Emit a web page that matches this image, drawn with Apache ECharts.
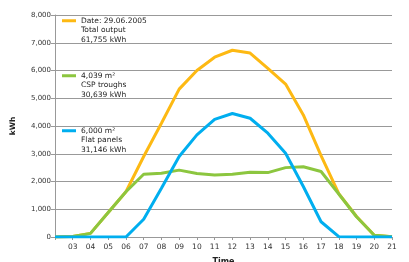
<!DOCTYPE html>
<html>
<head>
<meta charset="utf-8">
<script src="https://cdn.jsdelivr.net/npm/echarts@6/dist/echarts.min.js"></script>
<style>
html,body{margin:0;padding:0;background:#fff;}
#container{width:409px;height:262px;}
</style>
</head>
<body>
<div id="container"></div>
<script>
// hours of the day (02 is the axis start, not labelled)
var hours = ['02','03','04','05','06','07','08','09','10','11','12','13','14','15','16','17','18','19','20','21'];
var totalOutput = [0,20,130,880,1630,2900,4100,5330,6000,6480,6730,6630,6080,5510,4400,2930,1560,740,60,10];
var cspTroughs  = [0,20,130,880,1630,2260,2300,2410,2290,2230,2260,2330,2320,2500,2530,2360,1550,730,60,10];
var flatPanels  = [0,0,0,0,0,640,1760,2900,3680,4240,4450,4280,3740,3020,1820,550,10,0,0,0];

// two empty lines in front so the legend icon sits next to the first text line
var names = [
    '\n\nDate: 29.06.2005\nTotal output\n61,755 kWh',
    '\n\n4,039 m²\nCSP troughs\n30,639 kWh',
    '\n\n6,000 m²\nFlat panels\n31,146 kWh'
];
var colors = ['#fdb913','#8cc63f','#00aeef'];

var fmt = function (v) {
    return String(v).replace(/\B(?=(\d{3})+(?!\d))/g, ',');
};

var legendTops = [-3, 52, 107];
var legends = names.map(function (n, i) {
    return {
        data: [n],
        left: 62,
        top: legendTops[i],
        padding: 0,
        icon: 'rect',
        itemWidth: 14,
        itemHeight: 3,
        selectedMode: false,
        textStyle: {
            fontFamily: 'DejaVu Sans',
            fontSize: 7.5,
            lineHeight: 9.5,
            color: '#222'
        }
    };
});

var dom = document.getElementById('container');
var myChart = echarts.init(dom);
var option = {
    animation: false,
    color: colors,
    legend: legends,
    grid: { left: 55, right: 17, top: 15, bottom: 25, outerBoundsMode: 'none', containLabel: false },
    xAxis: {
        type: 'category',
        data: hours,
        boundaryGap: false,
        name: 'Time',
        nameLocation: 'middle',
        nameGap: 21,
        nameTextStyle: { fontFamily: 'DejaVu Sans', fontSize: 8, fontWeight: 'bold', color: '#222' },
        axisLine: { lineStyle: { color: '#999', width: 1 } },
        axisTick: { show: true, length: 3, lineStyle: { color: '#999' } },
        axisLabel: {
            fontFamily: 'DejaVu Sans', fontSize: 7.5, color: '#333', margin: 6,
            interval: 0,
            formatter: function (v, i) { return i === 0 ? '' : v; }
        },
        splitLine: { show: false }
    },
    yAxis: {
        type: 'value',
        min: 0,
        max: 8000,
        interval: 1000,
        name: 'kWh',
        nameLocation: 'middle',
        nameRotate: 90,
        nameGap: 38,
        nameTextStyle: { fontFamily: 'DejaVu Sans', fontSize: 7.5, fontWeight: 'bold', color: '#222' },
        axisLine: { show: true, lineStyle: { color: '#999', width: 1 } },
        axisTick: { show: true, length: 4, lineStyle: { color: '#999' } },
        axisLabel: { fontFamily: 'DejaVu Sans', fontSize: 7, color: '#333', margin: 4, formatter: fmt },
        splitLine: { lineStyle: { color: '#999', width: 1 } }
    },
    series: [
        { name: names[0], type: 'line', data: totalOutput, symbol: 'none', lineStyle: { width: 3 } },
        { name: names[1], type: 'line', data: cspTroughs, symbol: 'none', lineStyle: { width: 3 } },
        { name: names[2], type: 'line', data: flatPanels, symbol: 'none', lineStyle: { width: 3 } }
    ]
};
myChart.setOption(option, true);
</script>
</body>
</html>
